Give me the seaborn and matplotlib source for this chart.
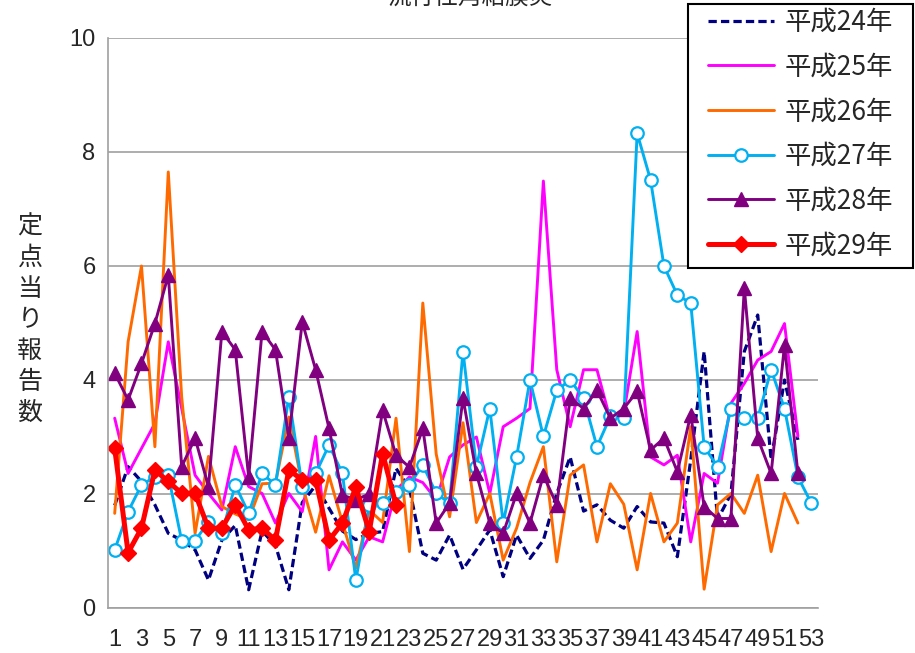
import matplotlib
matplotlib.use("Agg")
import matplotlib.pyplot as plt
import seaborn as sns
from matplotlib.patches import Rectangle

# weekly reports per sentinel site
weeks = list(range(1, 54))

h24 = [1.8, 2.48, 2.22, 1.81, 1.31, 1.19, 1.02, 0.49, 1.19, 1.45,
       0.32, 1.35, 1.10, 0.32, 1.85, 2.15, 1.75, 1.35, 1.2, 1.31,
       1.34, 2.45, 2.1, 0.96, 0.84, 1.28, 0.68, 1.02, 1.37, 0.55,
       1.28, 0.87, 1.19, 2.01, 2.65, 1.70, 1.81, 1.54, 1.40, 1.78,
       1.51, 1.49, 0.90, 2.6, 4.50, 1.55, 2.0, 4.5, 5.14, 2.6,
       4.0, 2.95]
h25 = [3.33, 2.36, 2.80, 3.24, 4.67, 3.5, 2.33, 2.01, 1.72, 2.83,
       2.13, 2.01, 1.49, 2.01, 1.69, 3.01, 0.67, 1.16, 0.84, 1.25,
       1.16, 2.07, 2.3, 2.2, 1.9, 2.65, 2.86, 3.0, 2.01, 3.18,
       3.33, 3.5, 7.49, 4.18, 3.18, 4.18, 4.18, 3.30, 3.41, 4.85,
       2.65, 2.51, 2.68, 1.16, 2.36, 2.19, 3.59, 3.94, 4.35, 4.50,
       4.99, 3.01]
h26 = [1.66, 4.67, 6.0, 2.83, 7.65, 3.7, 1.31, 2.66, 1.78, 1.65,
       1.55, 2.18, 2.19, 3.35, 2.15, 1.33, 2.32, 1.5, 0.7, 1.72,
       1.5, 3.33, 0.99, 5.35, 2.7, 1.6, 3.25, 1.5, 2.01, 0.84,
       1.4, 2.2, 2.83, 0.81, 2.33, 2.51, 1.16, 2.18, 1.82, 0.67,
       2.01, 1.16, 1.49, 3.18, 0.33, 1.81, 2.01, 1.66, 2.33, 0.99,
       2.01, 1.49]
h27 = [1.02, 1.69, 2.16, 2.30, 2.33, 1.18, 1.18, 1.51, 1.31, 2.16,
       1.66, 2.36, 2.16, 3.71, 2.13, 2.36, 2.86, 2.36, 0.49, 1.8,
       1.84, 2.04, 2.16, 2.51, 2.01, 1.84, 4.50, 2.48, 3.50, 1.49,
       2.65, 4.0, 3.01, 3.82, 4.0, 3.68, 2.83, 3.36, 3.33, 8.33,
       7.51, 6.0, 5.49, 5.35, 2.83, 2.48, 3.50, 3.33, 3.33, 4.18,
       3.50, 2.30, 1.84]
h28 = [4.12, 3.65, 4.29, 4.99, 5.84, 2.48, 2.98, 2.13, 4.85, 4.53,
       2.30, 4.85, 4.53, 2.98, 5.02, 4.18, 3.15, 1.98, 1.9, 2.0,
       3.47, 2.68, 2.47, 3.15, 1.49, 1.84, 3.68, 2.36, 1.49, 1.31,
       2.01, 1.49, 2.33, 1.81, 3.68, 3.50, 3.82, 3.33, 3.50, 3.80,
       2.77, 2.98, 2.39, 3.39, 1.78, 1.57, 1.57, 5.61, 2.98, 2.36,
       4.61, 2.36]
h29 = [2.80, 0.97, 1.40, 2.42, 2.22, 2.01, 2.01, 1.40, 1.40, 1.81,
       1.37, 1.40, 1.19, 2.42, 2.25, 2.25, 1.19, 1.49, 2.12, 1.34,
       2.71, 1.81]

labels = ["平成24年", "平成25年", "平成26年", "平成27年", "平成28年", "平成29年"]
title = "流行性角結膜炎"
ylabel = "定点当り報告数"

sns.set_style("white")
plt.rcParams['font.family'] = ['Noto Sans CJK JP', 'DejaVu Sans']

fig = plt.figure(figsize=(9.15, 6.53), dpi=100)
ax = fig.add_axes([108 / 915, 45 / 653, 710 / 915, 570 / 653])

# navy dashed
sns.lineplot(x=weeks[:len(h24)], y=h24, ax=ax, color='#000080', lw=2.3,
             linestyle=(0, (2.6, 1.3)), label=labels[0])
sns.lineplot(x=weeks[:len(h25)], y=h25, ax=ax, color='#FF00FF', lw=2.1,
             label=labels[1])
sns.lineplot(x=weeks[:len(h26)], y=h26, ax=ax, color='#FF6A00', lw=2.1,
             label=labels[2])
sns.lineplot(x=weeks[:len(h27)], y=h27, ax=ax, color='#00B0F0', lw=2.1,
             marker='o', markersize=9, markerfacecolor='white',
             markeredgecolor='#00B0F0', markeredgewidth=1.6, label=labels[3])
sns.lineplot(x=weeks[:len(h28)], y=h28, ax=ax, color='#800080', lw=2.1,
             marker='^', markersize=10, markerfacecolor='#800080',
             markeredgecolor='#800080', markeredgewidth=1, label=labels[4])
sns.lineplot(x=weeks[:len(h29)], y=h29, ax=ax, color='#FF0000', lw=3.6,
             marker='D', markersize=8.5, markerfacecolor='#FF0000',
             markeredgecolor='#FF0000', markeredgewidth=1, label=labels[5])

ax.set_xlim(0.5, 53.5)
ax.set_ylim(0, 10)
ax.set_yticks(range(0, 11, 2))
ax.set_xticks(range(1, 54, 2))
ax.set_xticklabels([str(w) for w in range(1, 54, 2)])
ax.yaxis.grid(True, color='#A0A0A0', lw=1.2)
ax.set_axisbelow(True)
for s in ['top', 'right']:
    ax.spines[s].set_visible(False)
for s in ['left', 'bottom']:
    ax.spines[s].set_color('#A0A0A0')
    ax.spines[s].set_linewidth(1.2)
ax.tick_params(axis='both', length=0, labelsize=17)
ax.tick_params(axis='x', pad=15)
ax.tick_params(axis='y', pad=9)
for t in ax.get_xticklabels() + ax.get_yticklabels():
    t.set_fontfamily('Liberation Sans')
ax.set_xlabel('')
ax.set_ylabel('')

# legend box drawn as a plain rectangle, entries placed inside it
box = Rectangle((688 / 915, 1 - 268 / 653), 225 / 915, 264 / 653,
                transform=fig.transFigure, facecolor='white',
                edgecolor='black', lw=1.5, zorder=5, clip_on=False)
ax.add_artist(box)
leg = ax.legend(loc='upper left', bbox_to_anchor=(708 / 915, 1 - 9 / 653),
                bbox_transform=fig.transFigure, borderaxespad=0,
                fontsize=19, frameon=False, handlelength=2.5,
                labelspacing=0.67, borderpad=0, handletextpad=0.4)
leg.set_zorder(6)

fig.text(470 / 915, 1 + 3 / 653, title, ha='center', va='center', fontsize=17)
fig.text(30 / 915, 1 - 320 / 653, "\n".join(ylabel), ha='center', va='center',
         fontsize=18, linespacing=1.25)

fig.savefig('out.png', dpi=100)
